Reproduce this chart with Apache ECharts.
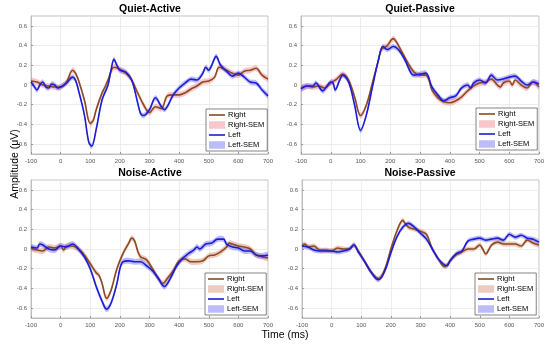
<!DOCTYPE html>
<html><head><meta charset="utf-8">
<script src="https://cdn.jsdelivr.net/npm/echarts@6/dist/echarts.min.js"></script>
<style>html,body{margin:0;padding:0;background:#fff}#c{width:550px;height:347px}</style>
</head><body><div id="c"></div>
<script>
// ---- tick labels / categories ----
const panelTitles = ['Quiet-Active', 'Quiet-Passive', 'Noise-Active', 'Noise-Passive'];
const xTicks = [-100, 0, 100, 200, 300, 400, 500, 600, 700];
const yTicks = [-0.6, -0.4, -0.2, 0, 0.2, 0.4, 0.6];
const legendNames = ['Right', 'Right-SEM', 'Left', 'Left-SEM'];

// ---- series values: [time (ms), amplitude (uV)] ----
const quietActiveRight = [[-100,0.04],[-80,0.03],[-60,0.0],[-40,-0.01],[-20,-0.02],[0,-0.02],[20,0.03],[40,0.15],[50,0.12],[60,0.05],[80,-0.15],[100,-0.39],[110,-0.36],[120,-0.25],[140,-0.08],[150,-0.02],[160,0.05],[180,0.18],[200,0.16],[220,0.12],[240,0.05],[260,-0.08],[280,-0.2],[300,-0.28],[320,-0.22],[340,-0.24],[360,-0.11],[380,-0.1],[400,-0.1],[420,-0.08],[440,-0.04],[460,-0.01],[480,0.03],[500,0.04],[520,0.08],[535,0.18],[560,0.15],[580,0.12],[600,0.1],[620,0.14],[640,0.15],[660,0.17],[680,0.1],[700,0.06]];
const quietActiveLeft = [[-100,0.03],[-90,-0.01],[-80,-0.05],[-70,0.0],[-60,0.03],[-50,-0.02],[-40,-0.03],[-30,0.01],[-20,0.0],[-10,-0.03],[0,-0.02],[20,0.02],[40,0.08],[50,0.05],[60,-0.05],[80,-0.3],[95,-0.58],[105,-0.62],[120,-0.45],[140,-0.15],[160,0.0],[170,0.15],[180,0.26],[190,0.2],[200,0.15],[220,0.13],[240,0.05],[260,-0.18],[270,-0.29],[280,-0.31],[300,-0.25],[320,-0.13],[340,-0.22],[350,-0.25],[360,-0.22],[380,-0.1],[400,-0.03],[420,0.02],[440,0.06],[460,0.05],[480,0.12],[490,0.18],[500,0.15],[510,0.2],[525,0.29],[540,0.2],[560,0.14],[580,0.09],[600,0.12],[620,0.08],[640,0.03],[660,0.02],[680,-0.05],[700,-0.11]];

const quietPassiveRight = [[-100,-0.03],[-80,-0.01],[-60,-0.02],[-40,-0.01],[-20,-0.03],[0,0.02],[20,0.06],[40,0.11],[60,0.05],[80,-0.12],[100,-0.31],[120,-0.2],[140,0.02],[160,0.25],[170,0.36],[180,0.38],[190,0.4],[210,0.47],[220,0.44],[240,0.33],[260,0.22],[280,0.13],[300,0.1],[320,0.1],[330,0.05],[340,-0.05],[360,-0.13],[380,-0.17],[400,-0.18],[420,-0.16],[440,-0.12],[460,-0.06],[480,-0.01],[500,0.02],[520,0.03],[540,0.06],[560,0.0],[570,-0.02],[580,0.02],[600,0.04],[610,0.0],[620,0.05],[640,0.0],[660,-0.03],[680,0.03],[700,-0.02]];
const quietPassiveLeft = [[-100,-0.04],[-80,-0.01],[-60,-0.01],[-50,0.02],[-27,-0.06],[-15,-0.02],[0,0.03],[8,0.02],[15,-0.05],[30,0.05],[40,0.1],[60,0.03],[80,-0.2],[100,-0.46],[120,-0.3],[140,-0.02],[160,0.25],[175,0.39],[190,0.36],[210,0.39],[230,0.35],[250,0.25],[270,0.12],[280,0.1],[300,0.11],[320,0.12],[340,-0.02],[360,-0.1],[380,-0.16],[400,-0.13],[420,-0.11],[440,-0.03],[460,0.0],[470,-0.03],[480,0.02],[500,0.05],[520,0.02],[540,0.1],[560,0.05],[580,0.06],[600,0.08],[620,0.09],[640,0.04],[660,0.0],[680,0.03],[700,0.01]];

const noiseActiveRight = [[-100,0.01],[-80,-0.01],[-60,-0.02],[-40,0.02],[-20,0.01],[0,0.03],[10,-0.01],[20,0.03],[40,0.03],[60,0.0],[80,-0.06],[100,-0.15],[120,-0.24],[130,-0.27],[140,-0.35],[155,-0.5],[170,-0.42],[190,-0.2],[210,-0.05],[230,0.06],[240,0.11],[250,0.08],[260,-0.02],[270,-0.08],[290,-0.11],[310,-0.2],[330,-0.3],[345,-0.35],[360,-0.3],[380,-0.22],[400,-0.12],[420,-0.1],[440,-0.13],[460,-0.13],[480,-0.12],[500,-0.07],[520,-0.06],[540,-0.03],[560,0.02],[570,0.06],[580,0.05],[600,0.03],[620,0.02],[640,0.0],[660,-0.06],[680,-0.08],[700,-0.09]];
const noiseActiveLeft = [[-100,0.02],[-80,0.01],[-70,0.05],[-60,0.04],[-40,0.0],[-20,-0.01],[0,0.03],[20,0.02],[40,0.05],[60,0.0],[80,-0.08],[100,-0.2],[120,-0.38],[140,-0.53],[155,-0.61],[170,-0.55],[190,-0.35],[200,-0.2],[210,-0.13],[230,-0.12],[250,-0.13],[270,-0.13],[290,-0.17],[310,-0.22],[330,-0.3],[350,-0.38],[370,-0.3],[390,-0.18],[410,-0.1],[430,-0.05],[450,-0.01],[460,0.02],[470,0.0],[490,0.05],[510,0.06],[530,0.1],[550,0.1],[560,0.05],[580,0.02],[600,0.01],[620,-0.02],[640,-0.02],[660,-0.06],[680,-0.07],[700,-0.06]];

const noisePassiveRight = [[-100,0.03],[-90,0.05],[-80,0.02],[-60,0.03],[-40,-0.01],[-20,-0.01],[0,-0.02],[20,0.01],[40,0.0],[60,0.0],[75,0.04],[90,-0.02],[110,-0.12],[130,-0.22],[150,-0.29],[160,-0.3],[180,-0.2],[200,0.0],[220,0.18],[240,0.29],[250,0.25],[260,0.22],[280,0.2],[300,0.18],[320,0.15],[340,0.0],[360,-0.1],[380,-0.18],[390,-0.16],[400,-0.12],[420,-0.06],[440,-0.03],[460,0.0],[480,0.0],[500,0.04],[510,0.0],[520,-0.05],[540,0.04],[560,0.07],[580,0.05],[600,0.05],[620,0.05],[640,0.03],[660,0.09],[680,0.06],[700,0.04]];
const noisePassiveLeft = [[-100,0.03],[-80,0.02],[-60,-0.01],[-40,-0.02],[-20,-0.02],[0,-0.02],[20,-0.03],[40,-0.02],[60,0.0],[75,0.04],[90,-0.03],[110,-0.12],[130,-0.22],[150,-0.3],[160,-0.31],[180,-0.22],[200,-0.04],[220,0.12],[240,0.22],[260,0.26],[280,0.22],[300,0.16],[320,0.1],[340,0.0],[360,-0.1],[380,-0.16],[390,-0.17],[400,-0.12],[420,-0.05],[440,-0.02],[460,0.08],[480,0.1],[500,0.11],[520,0.09],[540,0.1],[560,0.11],[580,0.09],[600,0.15],[620,0.12],[640,0.14],[660,0.11],[680,0.1],[700,0.07]];

// approximate SEM half-widths read from the shaded bands
const semRight = [0.03, 0.03, 0.03, 0.025];
const semLeft = [0.027, 0.027, 0.03, 0.025];

const rightSeries = [quietActiveRight, quietPassiveRight, noiseActiveRight, noisePassiveRight];
const leftSeries = [quietActiveLeft, quietPassiveLeft, noiseActiveLeft, noisePassiveLeft];

// ---- styling / layout ----
const FONT = 'Liberation Sans, Arial, sans-serif';
const RIGHT_COLOR = '#8a4a1f';
const LEFT_COLOR = '#1c1cd4';
const RIGHT_SEM_FILL = ['rgba(242,130,140,0.45)', 'rgba(242,130,140,0.45)', 'rgba(215,140,110,0.45)', 'rgba(215,140,110,0.45)'];
const LEFT_SEM_FILL = 'rgba(95,95,245,0.42)';
const grids = [
  {left: 31, top: 16, width: 237, height: 138},
  {left: 301, top: 16, width: 238, height: 138},
  {left: 31, top: 180, width: 237, height: 138},
  {left: 302, top: 180, width: 237, height: 138}
];
const titlePos = [[150, 4], [420, 4], [150, 168], [420, 168]];
const legendPos = [[206, 109], [476, 108], [205, 273], [475, 273]];

function bandSeries(name, idx, data, sem, fill) {
  return {
    type: 'custom', name: name, xAxisIndex: idx, yAxisIndex: idx,
    data: [data[0]], clip: true, z: 1, silent: true,
    itemStyle: {color: fill},
    renderItem: function (params, api) {
      const up = data.map(d => api.coord([d[0], d[1] + sem]));
      const dn = data.map(d => api.coord([d[0], d[1] - sem])).reverse();
      return {type: 'polygon', shape: {points: up.concat(dn), smooth: 0.35}, style: {fill: fill}};
    }
  };
}

const option = {
  animation: false,
  backgroundColor: '#fff',
  textStyle: {fontFamily: FONT},
  grid: grids.map(g => Object.assign({show: true, borderColor: '#b4b4b4', borderWidth: 0.8, backgroundColor: '#fff', containLabel: false}, g)),
  title: panelTitles.map((t, i) => ({
    text: t, left: titlePos[i][0], top: titlePos[i][1], textAlign: 'center', padding: 0,
    textStyle: {fontSize: 10.5, fontWeight: 'bold', color: '#000', fontFamily: FONT}
  })),
  xAxis: grids.map((g, i) => ({
    type: 'value', gridIndex: i, min: xTicks[0], max: xTicks[xTicks.length - 1], interval: 100,
    axisLine: {show: true, onZero: false, lineStyle: {color: '#b4b4b4', width: 0.8}},
    axisTick: {show: true, inside: true, length: 2, lineStyle: {color: '#999'}},
    axisLabel: {fontSize: 6, color: '#555', margin: 4, fontFamily: FONT},
    splitLine: {show: true, lineStyle: {color: '#e8e8e8', width: 0.8}}
  })),
  yAxis: grids.map((g, i) => ({
    type: 'value', gridIndex: i, min: -0.7, max: 0.7,
    axisLine: {show: true, onZero: false, lineStyle: {color: '#b4b4b4', width: 0.8}},
    axisTick: {show: true, inside: true, length: 2, lineStyle: {color: '#999'}, customValues: yTicks},
    axisLabel: {fontSize: 6, color: '#555', margin: 4, fontFamily: FONT, customValues: yTicks,
      formatter: v => (Math.abs(v) < 1e-9 ? '0' : String(Math.round(v * 10) / 10))},
    splitLine: {show: true, lineStyle: {color: '#e8e8e8', width: 0.8}}
  })),
  legend: legendPos.map((p, i) => ({
    left: p[0], top: p[1], orient: 'vertical', selectedMode: false,
    itemWidth: 16, itemHeight: 7.5, itemGap: 2, padding: [2, 3, 2, 3],
    backgroundColor: '#fff', borderColor: '#333', borderWidth: 0.6,
    textStyle: {fontSize: 7.5, color: '#000', fontFamily: FONT, padding: [0, 0, 0, -2]},
    data: [
      {name: 'Right', icon: 'path://M0,0 L16,0 L16,1.6 L0,1.6 Z', itemStyle: {color: RIGHT_COLOR}},
      {name: 'Right-SEM', icon: 'rect', itemStyle: {color: RIGHT_SEM_FILL[i]}},
      {name: 'Left', icon: 'path://M0,0 L16,0 L16,1.6 L0,1.6 Z', itemStyle: {color: LEFT_COLOR}},
      {name: 'Left-SEM', icon: 'rect', itemStyle: {color: LEFT_SEM_FILL}}
    ]
  })),
  graphic: [
    {type: 'text', x: 285, y: 335, style: {text: 'Time (ms)', fontSize: 10.5, fill: '#000', fontFamily: FONT, align: 'center', verticalAlign: 'middle'}},
    {type: 'text', x: 15, y: 164, rotation: Math.PI / 2, style: {text: 'Amplitude (μV)', fontSize: 10.5, fill: '#000', fontFamily: FONT, align: 'center', verticalAlign: 'middle'}}
  ],
  series: []
};

for (let i = 0; i < 4; i++) {
  option.series.push(bandSeries('Right-SEM', i, rightSeries[i], semRight[i], RIGHT_SEM_FILL[i]));
  option.series.push(bandSeries('Left-SEM', i, leftSeries[i], semLeft[i], LEFT_SEM_FILL));
  option.series.push({type: 'line', name: 'Right', xAxisIndex: i, yAxisIndex: i, data: rightSeries[i],
    smooth: 0.35, showSymbol: false, symbol: 'none', z: 3, silent: true,
    lineStyle: {color: RIGHT_COLOR, width: 1.6}, itemStyle: {color: RIGHT_COLOR}});
  option.series.push({type: 'line', name: 'Left', xAxisIndex: i, yAxisIndex: i, data: leftSeries[i],
    smooth: 0.35, showSymbol: false, symbol: 'none', z: 4, silent: true,
    lineStyle: {color: LEFT_COLOR, width: 1.6}, itemStyle: {color: LEFT_COLOR}});
}

const chart = echarts.init(document.getElementById('c'), null, {renderer: 'canvas'});
chart.setOption(option);
</script>
</body></html>
